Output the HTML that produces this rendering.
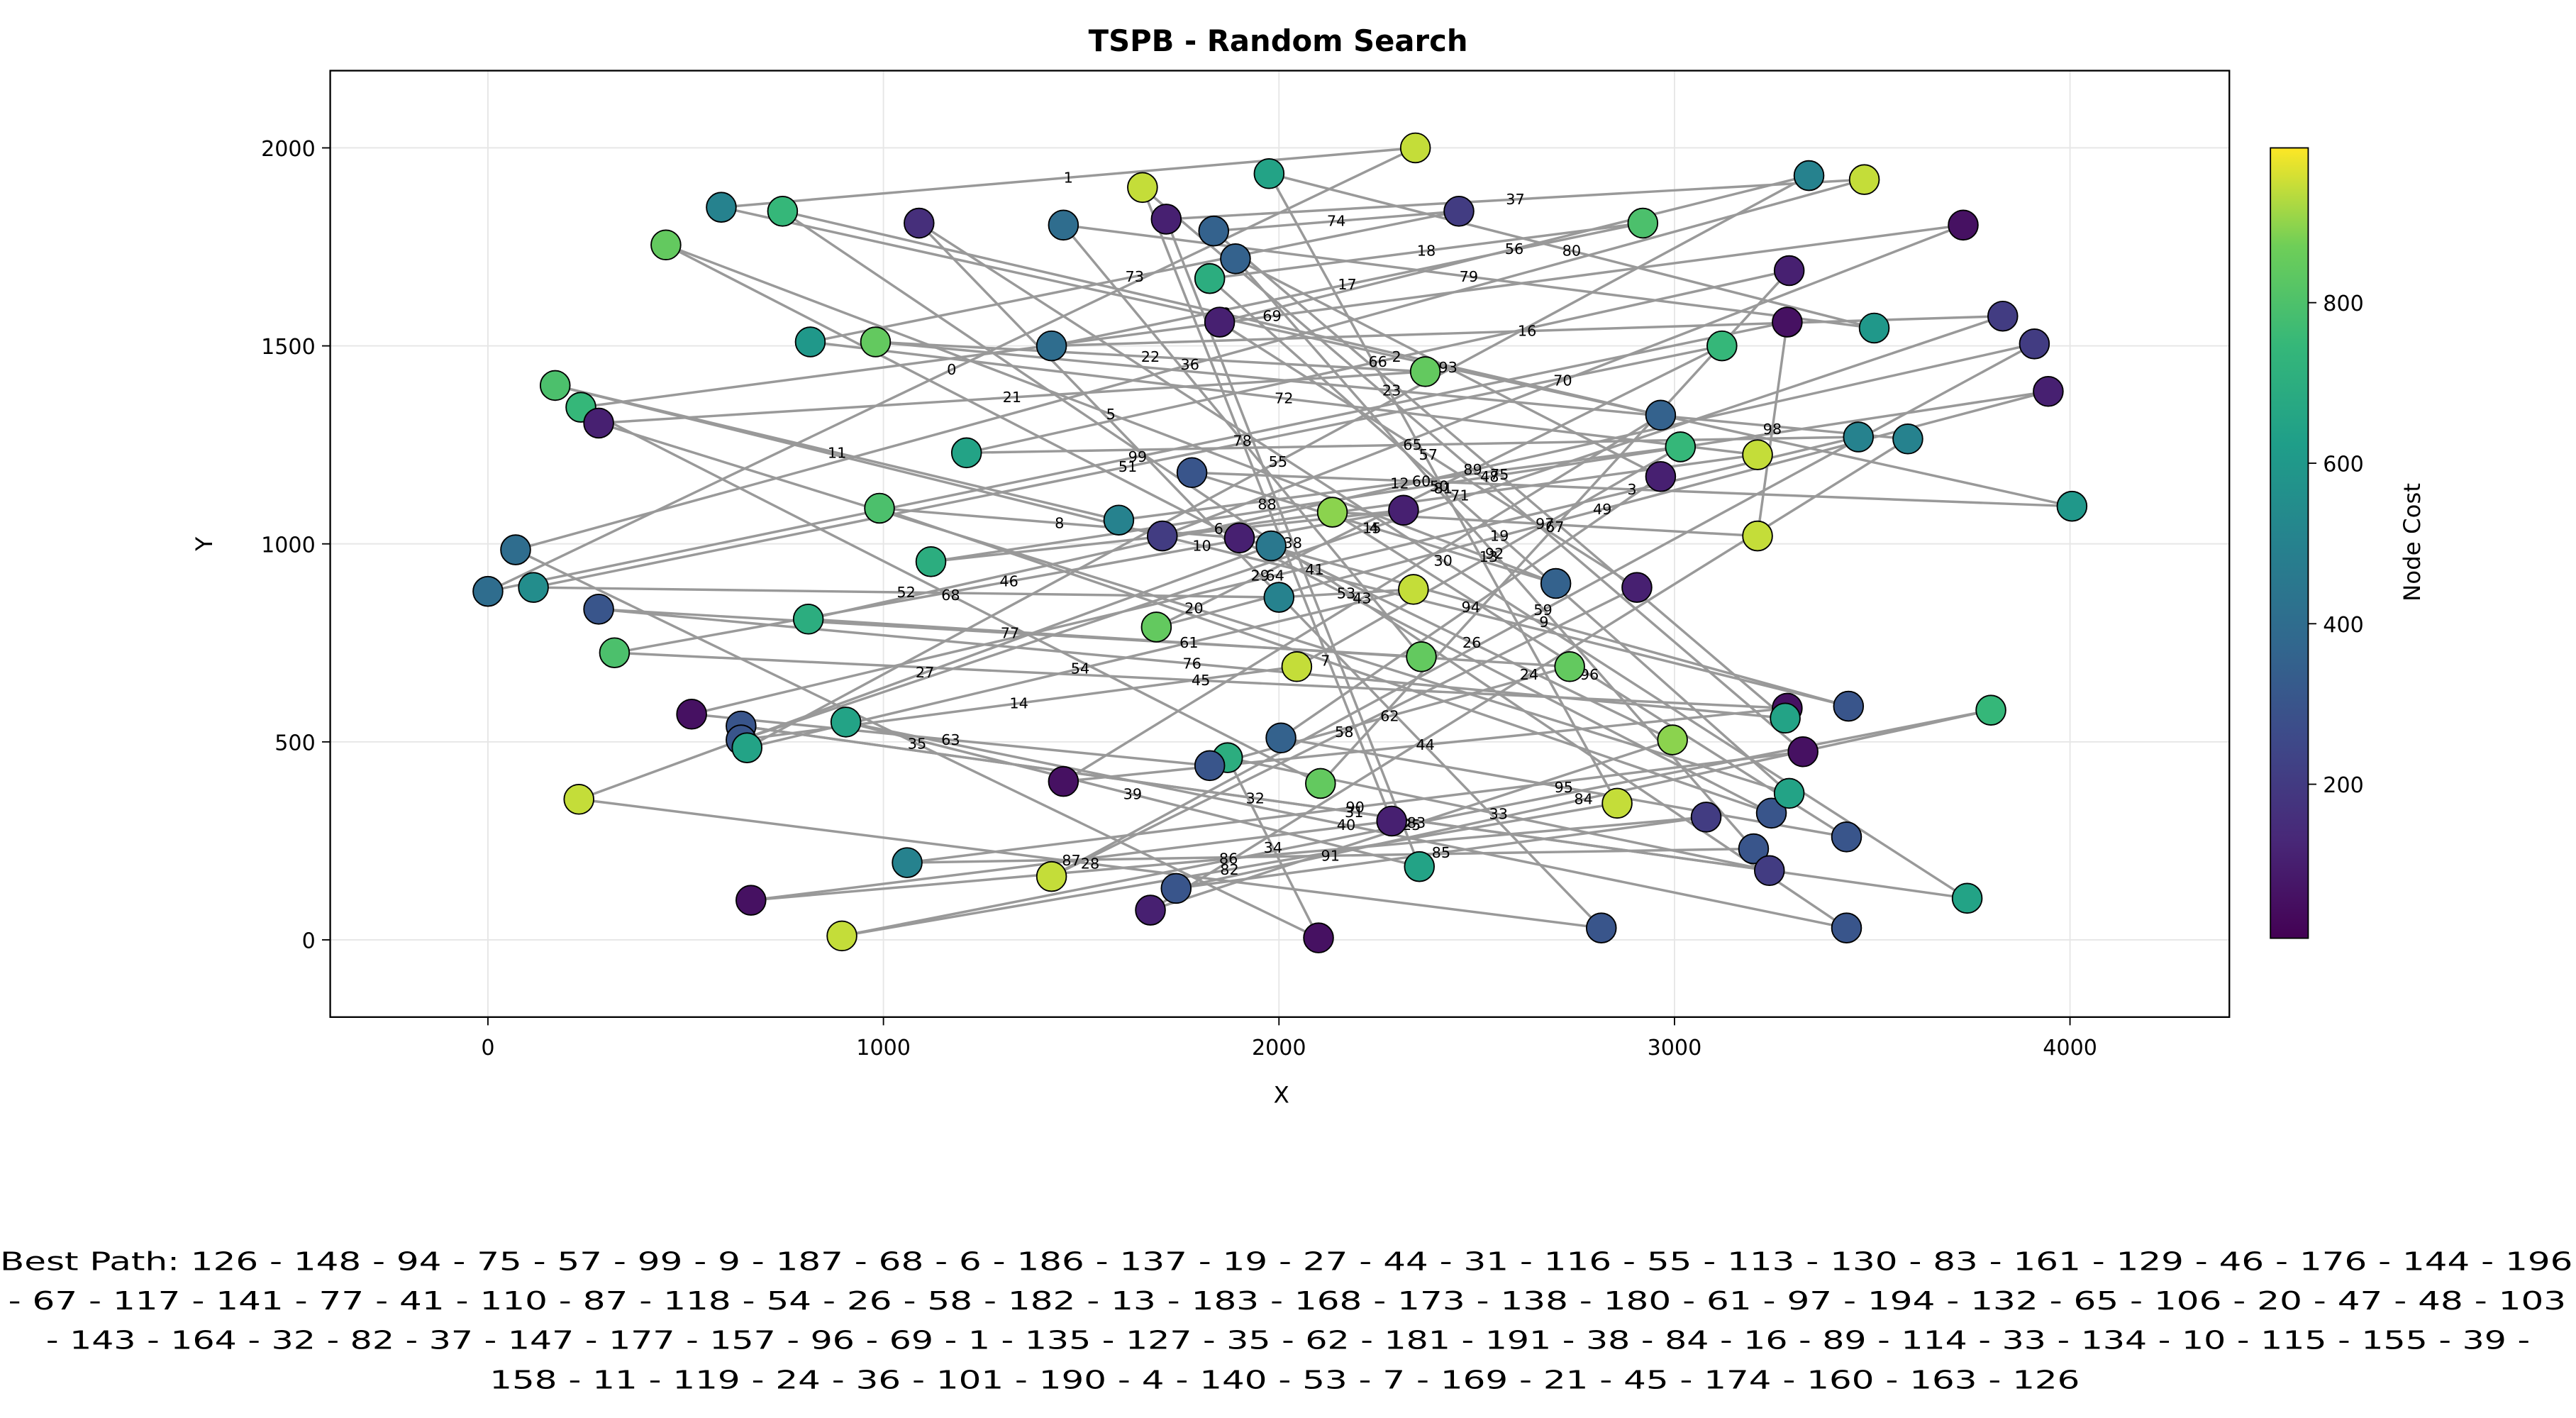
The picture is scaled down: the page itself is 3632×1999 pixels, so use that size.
<!DOCTYPE html>
<html><head><meta charset="utf-8"><style>
html,body{margin:0;padding:0;background:#fff}
svg{display:block}
text{font-family:"DejaVu Sans","Liberation Sans",sans-serif}
</style></head><body>
<svg id="chart" width="3632" height="1999" viewBox="0 0 1568 863" xmlns="http://www.w3.org/2000/svg">
<defs>
<linearGradient id="vir" x1="0" y1="1" x2="0" y2="0">
<stop offset="0" stop-color="#440154"/><stop offset="0.125" stop-color="#482878"/><stop offset="0.25" stop-color="#3e4989"/><stop offset="0.375" stop-color="#31688e"/><stop offset="0.5" stop-color="#26828e"/><stop offset="0.625" stop-color="#1f9e89"/><stop offset="0.75" stop-color="#35b779"/><stop offset="0.875" stop-color="#6ece58"/><stop offset="1" stop-color="#fde725"/>
</linearGradient>
<clipPath id="pc"><rect x="201" y="43" width="1156" height="576"/></clipPath>
</defs>
<text x="778" y="31" text-anchor="middle" font-size="18" font-weight="bold">TSPB - Random Search</text>
<g id="grid"></g>
<g id="edges" clip-path="url(#pc)"></g>
<g id="elabels"></g>
<g id="nodes"></g>
<rect x="201" y="43" width="1156" height="576" fill="none" stroke="#000" stroke-width="1"/>
<g id="ticks"></g>
<text x="780" y="671" text-anchor="middle" font-size="14">X</text>
<text x="129" y="331" text-anchor="middle" font-size="14" transform="rotate(-90 129 331)">Y</text>
<rect x="1382" y="90" width="23" height="481" fill="url(#vir)" stroke="#000" stroke-width="0.8"/>
<g id="cbticks"></g>
<text x="1473" y="330" text-anchor="middle" font-size="14" transform="rotate(-90 1473 330)">Node Cost</text>
<g font-size="15.5">
<text x="0" y="773" textLength="1566" lengthAdjust="spacingAndGlyphs">Best Path: 126 - 148 - 94 - 75 - 57 - 99 - 9 - 187 - 68 - 6 - 186 - 137 - 19 - 27 - 44 - 31 - 116 - 55 - 113 - 130 - 83 - 161 - 129 - 46 - 176 - 144 - 196</text>
<text x="5" y="797" textLength="1557" lengthAdjust="spacingAndGlyphs">- 67 - 117 - 141 - 77 - 41 - 110 - 87 - 118 - 54 - 26 - 58 - 182 - 13 - 183 - 168 - 173 - 138 - 180 - 61 - 97 - 194 - 132 - 65 - 106 - 20 - 47 - 48 - 103</text>
<text x="28" y="821" textLength="1512" lengthAdjust="spacingAndGlyphs">- 143 - 164 - 32 - 82 - 37 - 147 - 177 - 157 - 96 - 69 - 1 - 135 - 127 - 35 - 62 - 181 - 191 - 38 - 84 - 16 - 89 - 114 - 33 - 134 - 10 - 115 - 155 - 39 -</text>
<text x="298" y="845" textLength="968" lengthAdjust="spacingAndGlyphs">158 - 11 - 119 - 24 - 36 - 101 - 190 - 4 - 140 - 53 - 7 - 169 - 21 - 45 - 174 - 160 - 163 - 126</text>
</g>
</svg>
<script>
const xs=[0,70,115,170,235,280,280,320,230,450,515,640,640,655,590,745,665,815,980,810,905,895,990,1060,1120,1090,1210,1425,1455,1455,1425,1595,1655,1675,1690,1705,1715,1740,1780,1835,1825,1850,1890,1870,1825,1900,1975,1980,2000,2005,2045,2105,2100,2135,2315,2285,2345,2340,2360,2370,2355,2455,2700,2735,2815,2855,2920,2965,2965,2905,3015,2995,3080,3120,3210,3210,3245,3200,3240,3290,3285,3285,3280,3290,3325,3340,3480,3465,3440,3435,3435,3505,3590,3730,3830,3910,3945,4005,3800,3740];
const ys=[880,985,890,1400,1345,1305,835,725,355,1755,570,540,505,485,1850,1840,100,1510,1510,810,550,10,1090,195,955,1810,1230,1500,1805,400,160,1060,1900,75,790,1020,1820,130,1180,1790,1670,1560,1720,460,440,1015,1935,995,865,510,690,395,5,1080,1085,300,2000,885,715,1435,185,1840,900,690,30,345,1810,1325,1170,890,1245,505,310,1500,1225,1020,320,230,175,1690,1560,585,560,370,475,1930,1920,1270,590,260,30,1545,1265,1805,1575,1505,1385,1095,580,105];
const costs=[400,400,550,800,750,100,300,800,950,850,50,300,300,650,500,750,50,600,850,700,650,950,800,500,700,150,650,400,400,50,950,500,950,100,850,200,100,300,300,350,700,100,350,700,300,100,650,450,500,350,950,850,50,900,100,100,950,950,850,850,650,200,350,850,300,950,800,350,100,100,750,900,200,750,950,950,300,300,200,100,50,50,650,650,50,500,950,500,300,300,300,600,500,50,200,200,100,600,750,650];
const order=[0,56,14,97,38,62,9,76,22,45,88,3,31,70,50,12,94,27,66,40,83,5,59,18,92,33,71,47,8,64,25,99,11,78,43,52,1,86,36,60,20,90,15,67,29,81,7,54,24,96,34,73,2,48,57,13,85,41,69,30,95,19,63,44,10,87,26,79,51,4,93,35,74,17,61,39,82,6,58,28,91,46,65,21,98,37,72,16,55,32,84,23,77,42,68,49,89,53,75,80];
const xTicks=[0,1000,2000,3000,4000];
const yTicks=[0,500,1000,1500,2000];
const cbTicks=[200,400,600,800];

const NS='http://www.w3.org/2000/svg';
function sx(x){return 297+x*0.24075;}
function sy(y){return 572-y*0.241;}
function cy(v){return 575-v*0.4885;}
const stops=[[68,1,84],[72,40,120],[62,73,137],[49,104,142],[38,130,142],[31,158,137],[53,183,121],[110,206,88],[253,231,37]];
function vir(v){let t=Math.max(0,Math.min(1,v/1000))*8;let i=Math.min(7,Math.floor(t)),f=t-i;const a=stops[i],b=stops[i+1];return 'rgb('+a.map((c,k)=>Math.round(c+(b[k]-c)*f)).join(',')+')';}
function mk(tag,attrs,parent){const e=document.createElementNS(NS,tag);for(const k in attrs)e.setAttribute(k,attrs[k]);parent.appendChild(e);return e;}
const grid=document.getElementById('grid'),ticks=document.getElementById('ticks');
xTicks.forEach(v=>{
 const g=mk('line',{x1:sx(v),x2:sx(v),y1:43,y2:619,stroke:'#e6e6e6','stroke-width':0.8},grid);
 
 
 mk('line',{x1:sx(v),x2:sx(v),y1:619,y2:624,stroke:'#000','stroke-width':0.8},ticks);
 const t=mk('text',{x:sx(v),y:642,'text-anchor':'middle','font-size':13},ticks);t.textContent=v;
 
 
});
yTicks.forEach(v=>{
 const g=mk('line',{x1:201,x2:1357,y1:sy(v),y2:sy(v),stroke:'#e6e6e6','stroke-width':0.8},grid);
 
 
 mk('line',{x1:196,x2:201,y1:sy(v),y2:sy(v),stroke:'#000','stroke-width':0.8},ticks);
 const t=mk('text',{x:192,y:sy(v)+5,'text-anchor':'end','font-size':13},ticks);t.textContent=v;
 
 
});
const cbt=document.getElementById('cbticks');
cbTicks.forEach(v=>{
 mk('line',{x1:1405,x2:1410,y1:cy(v),y2:cy(v),stroke:'#000','stroke-width':0.8},cbt);
 const t=mk('text',{x:1414,y:cy(v)+5,'font-size':13},cbt);t.textContent=v;
 
 
});
const edges=document.getElementById('edges'),el=document.getElementById('elabels');
for(let i=0;i<order.length;i++){
 const a=order[i],b=order[(i+1)%order.length];
 const l=mk('line',{x1:sx(xs[a]),y1:sy(ys[a]),x2:sx(xs[b]),y2:sy(ys[b]),stroke:'#999','stroke-width':1.5},edges);
 
 
 const t=mk('text',{x:(sx(xs[a])+sx(xs[b]))/2,y:(sy(ys[a])+sy(ys[b]))/2+3,'text-anchor':'middle','font-size':9},el);
 t.textContent=i;
 
 
}
const nodes=document.getElementById('nodes');
for(let i=0;i<xs.length;i++){
 const c=mk('circle',{cx:sx(xs[i]),cy:sy(ys[i]),r:9,fill:vir(costs[i]),stroke:'#000','stroke-width':0.8},nodes);
 
 
}
</script>
</body></html>
